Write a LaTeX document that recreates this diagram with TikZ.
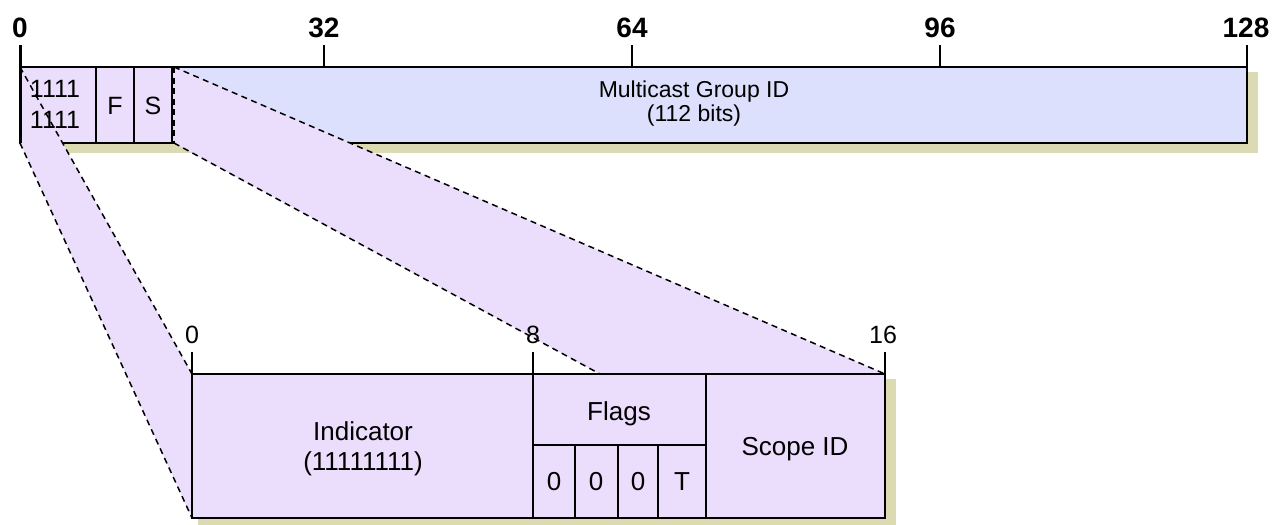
\documentclass[tikz,border=0pt]{standalone}
\usepackage{fontspec}
\setmainfont{Liberation Sans}
\definecolor{lav}{HTML}{EBDDFC}
\definecolor{blu}{HTML}{DDE0FC}
\definecolor{shd}{HTML}{DCDAB2}
\begin{document}
\begin{tikzpicture}[x=1pt,y=-1pt,
  box/.style={line width=2.4pt},
  div/.style={line width=1.6pt},
  tick/.style={line width=2.4pt},
  proj/.style={line width=1.5pt, dash pattern=on 6pt off 4.5pt},
  txt/.style={inner sep=0pt, anchor=base, font=\fontsize{25}{25}\selectfont},
  mtxt/.style={inner sep=0pt, anchor=base, font=\fontsize{23}{23}\selectfont},
  btxt/.style={inner sep=0pt, anchor=base, font=\fontsize{26}{26}\selectfont},
  scl/.style={inner sep=0pt, anchor=base, font=\fontsize{28}{28}\selectfont\bfseries},
  lscl/.style={inner sep=0pt, anchor=base, font=\fontsize{25}{25}\selectfont}]
\useasboundingbox (0,0) rectangle (1286,525);
% top box
\fill[shd] (26,72) rectangle (1258,153);
\fill[lav] (20,67) rectangle (172,143);
\fill[blu] (172,67) rectangle (1247,143);
\draw[box] (20,67) rectangle (1247,143);
\draw[div] (96,67) -- (96,143) (134,67) -- (134,143) (172,67) -- (172,143);
% projection corners
\coordinate (tl) at (20,67);
\coordinate (tbl) at (20,143);
\coordinate (sr) at (174,67);
\coordinate (sbr) at (174,143);
\coordinate (ltl) at (192,374);
\coordinate (lbl) at (192,518);
\coordinate (ltr) at (885,374);
\coordinate (lmid) at (600,374);
\fill[lav] (tl) -- (ltl) -- (lbl) -- (tbl) -- cycle;
\fill[lav] (sr) -- (ltr) -- (lmid) -- (sbr) -- cycle;
% top texts
\node[txt] (i1) at (55,97) {1111};
\node[txt] (i2) at (55,128) {1111};
\node[txt] (f) at (115,114) {F};
\node[txt] (s) at (153,114) {S};
\node[mtxt] (m1) at (694,97) {Multicast Group ID};
\node[mtxt] (m2) at (694,121) {(112 bits)};
% dashed projection lines
\draw[proj] (tl) -- (ltl);
\draw[proj] (tbl) -- (lbl);
\draw[proj] (sr) -- (ltr);
\draw[proj] (sbr) -- (lmid);
\draw[proj] (sr) -- (sbr);
% top scale
\draw[line width=3pt] (20,45) -- (20,143);
\draw[tick] (324,45) -- (324,67);
\draw[tick] (632,45) -- (632,67);
\draw[tick] (940,45) -- (940,67);
\draw[tick] (1247,45) -- (1247,67);
\node[scl] (s0) at (20,37) {0};
\node[scl] (s32) at (324,37) {32};
\node[scl] (s64) at (632,37) {64};
\node[scl] (s96) at (940,37) {96};
\node[scl] (s128) at (1246,37) {128};
% lower box
\fill[shd] (198,379) rectangle (896,530);
\fill[lav] (192,374) rectangle (885,518);
\draw[div] (533,374) -- (533,518) (706,374) -- (706,518) (533,445) -- (706,445)
  (575,445) -- (575,518) (618,445) -- (618,518) (658,445) -- (658,518);
\draw[box] (192,374) rectangle (885,518);
\draw[tick] (192,352) -- (192,374);
\draw[tick] (533,352) -- (533,374);
\draw[tick] (885,352) -- (885,374);
\node[lscl] (l0) at (192,343) {0};
\node[lscl] (l8) at (533,343) {8};
\node[lscl] (l16) at (883,343) {16};
\node[btxt] (ind1) at (363,440) {Indicator};
\node[btxt] (ind2) at (363,470) {(11111111)};
\node[btxt] (fl) at (619,420) {Flags};
\node[btxt] (b1) at (554,490) {0};
\node[btxt] (b2) at (596,490) {0};
\node[btxt] (b3) at (638,490) {0};
\node[btxt] (b4) at (682,490) {T};
\node[btxt] (sc) at (795,455) {Scope ID};
\end{tikzpicture}
\end{document}
